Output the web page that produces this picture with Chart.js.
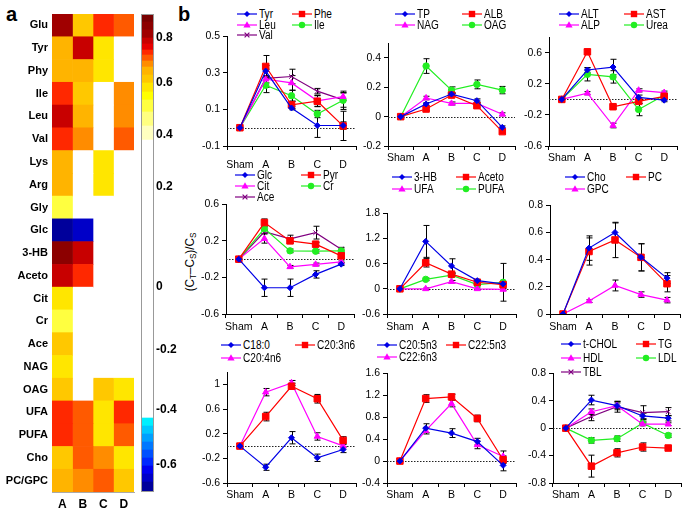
<!DOCTYPE html>
<html>
<head>
<meta charset="utf-8">
<script src="https://cdn.jsdelivr.net/npm/chart.js@4.4.1/dist/chart.umd.min.js"></script>
<style>
  body { margin: 0; background: #fff; width: 685px; height: 510px; position: relative; overflow: hidden;
         font-family: "Liberation Sans", Arial, sans-serif; color: #000; }
  canvas { position: absolute; }
  .panel-letter { position: absolute; font: bold 20px "Liberation Sans", Arial, sans-serif; line-height: 20px; }
  .lg { position: absolute; display: flex; align-items: center; height: 12px; font-size: 12px; line-height: 12px; white-space: nowrap; }
  .lg svg { margin-right: 2px; flex: none; }
  .lg span { display: inline-block; transform: scaleX(0.84); transform-origin: left center; }
  #ytitle { position: absolute; left: 190px; top: 262px; transform: translate(-50%, -50%) rotate(-90deg) scaleX(0.9);
            font-size: 13px; white-space: nowrap; }
  #ytitle sub { font-size: 9px; vertical-align: -2px; }
</style>
</head>
<body>
<div class="panel-letter" style="left:6px;top:4px">a</div>
<div class="panel-letter" style="left:178px;top:4px">b</div>
<div id="ytitle">(C<sub>T</sub>–C<sub>S</sub>)/C<sub>S</sub></div>

<script>
// ── Données : carte de chaleur ──────────────────────────────────────────────
const heatRows = ['Glu', 'Tyr', 'Phy', 'Ile', 'Leu', 'Val', 'Lys', 'Arg', 'Gly', 'Glc', '3-HB',
                  'Aceto', 'Cit', 'Cr', 'Ace', 'NAG', 'OAG', 'UFA', 'PUFA', 'Cho', 'PC/GPC'];
const heatGroups = ['A', 'B', 'C', 'D'];
// null = non significatif (case blanche)
const heatA = [0.83, 0.64, 0.64, 0.735, 0.78, 0.735, 0.64, 0.64, 0.51, -0.68, 0.86,
               0.79, 0.575, 0.51, 0.615, 0.575, 0.615, 0.735, 0.735, 0.615, 0.64];
const heatB = [0.63, 0.78, 0.64, 0.63, 0.645, 0.675, null, null, null, -0.645, 0.79,
               0.735, null, null, null, null, null, 0.705, 0.705, 0.705, 0.675];
const heatC = [0.735, 0.575, 0.575, null, null, null, 0.575, 0.575, null, null, null,
               null, null, null, null, null, 0.615, 0.575, 0.575, 0.675, 0.705];
const heatD = [0.705, null, null, 0.675, 0.675, 0.705, null, null, null, null, null,
               null, null, null, null, null, 0.575, 0.735, 0.705, 0.575, 0.615];

// Échelle de la barre de couleur (non linéaire, comme l'original)
const cbarTickVals = [0.8, 0.6, 0.4, 0.2, 0, -0.2, -0.4, -0.6];
const cbarTickPos = [454, 409, 357, 305, 205, 142, 82, 27];
const cbarEdges = [0, 10, 18, 26, 34, 42, 50, 58, 66, 74, 352, 366, 380, 392, 400, 409,
                   417, 425, 431, 437, 442, 448, 454, 462, 470, 478];
const cbarColors = ['#00009b', '#0000c8', '#0000f0', '#0028ff', '#0050ff', '#0078ff', '#00a0ff',
                    '#00c8ff', '#00f0ff', '#ffffff', '#ffffc0', '#ffff80', '#ffff40', '#ffff00',
                    '#ffe600', '#ffc800', '#ffb400', '#ff8c00', '#ff5a00', '#ff2800', '#e60000',
                    '#c80000', '#a00000', '#8c0000', '#780000'];

// ── Données : profils (C_T - C_S)/C_S ──────────────────────────────────────
const groups = ['Sham', 'A', 'B', 'C', 'D'];

const tyr = [0, 0.31, 0.108, 0.012, 0.012],    tyrErr = [0, 0.03, 0.01, 0.065, 0.02];
const phe = [0, 0.335, 0.125, 0.145, 0.01],    pheErr = [0, 0.06, 0.02, 0.03, 0.08];
const leu = [0, 0.265, 0.245, 0.147, 0.17],    leuErr = [0, 0.02, 0.04, 0.03, 0.02];
const ile = [0, 0.232, 0.175, 0.075, 0.15],    ileErr = [0, 0.04, 0.03, 0.02, 0.05];
const val = [0, 0.27, 0.28, 0.2, 0.152],       valErr = [0, 0.05, 0.04, 0.015, 0.04];

const tp = [0, 0.086, 0.154, 0.109, -0.073],   tpErr = [0, 0.01, 0.01, 0.012, 0.01];
const alb = [0, 0.052, 0.147, 0.075, -0.102],  albErr = [0, 0.01, 0.01, 0.01, 0.01];
const nag = [0, 0.127, 0.09, 0.09, 0.016],     nagErr = [0, 0.012, 0.01, 0.01, 0.01];
const oag = [0, 0.345, 0.181, 0.22, 0.181],    oagErr = [0, 0.05, 0.022, 0.03, 0.025];

const alt = [0, 0.379, 0.417, 0.026, -0.01],   altErr = [0, 0.03, 0.1, 0.03, 0.02];
const ast = [0, 0.613, -0.094, -0.025, 0.04],  astErr = [0, 0.03, 0.02, 0.03, 0.02];
const alp = [0, 0.08, -0.336, 0.117, 0.087],   alpErr = [0, 0.02, 0.03, 0.02, 0.02];
const urea = [0, 0.323, 0.29, -0.13, 0.053],   ureaErr = [0, 0.085, 0.08, 0.08, 0.03];

const glc = [0, -0.313, -0.313, -0.167, -0.055], glcErr = [0, 0.095, 0.095, 0.04, 0.015];
const pyr = [0, 0.4, 0.2, 0.164, 0.036],         pyrErr = [0, 0.04, 0.03, 0.02, 0.03];
const cit = [0, 0.225, -0.084, -0.058, -0.03],   citErr = [0, 0.05, 0.015, 0.015, 0.01];
const cr = [0, 0.335, 0.091, 0.087, 0.091],      crErr = [0, 0.02, 0.02, 0.02, 0.02];
const ace = [0, 0.3, 0.222, 0.29, 0.109],        aceErr = [0, 0.02, 0.04, 0.07, 0.02];

const hb = [0, 1.13, 0.546, 0.195, 0.117],     hbErr = [0, 0.38, 0.17, 0.03, 0.02];
const aceto = [0, 0.62, 0.35, 0.156, 0.1],     acetoErr = [0, 0.1, 0.03, 0.03, 0.03];
const ufa = [0, 0, 0.17, 0, -0.015],           ufaErr = [0, 0.02, 0.03, 0.02, 0.02];
const pufa = [0, 0.226, 0.327, 0.1, 0.156],    pufaErr = [0, 0.03, 0.03, 0.03, 0.45];

const cho = [0, 0.485, 0.6, 0.417, 0.264],     choErr = [0, 0.09, 0.07, 0.1, 0.04];
const pc = [0, 0.46, 0.545, 0.417, 0.223],     pcErr = [0, 0.1, 0.13, 0.1, 0.06];
const gpc = [0, 0.095, 0.21, 0.143, 0.102],    gpcErr = [0, 0.01, 0.04, 0.02, 0.02];

const c180 = [0, -0.344, 0.136, -0.19, -0.056], c180Err = [0, 0.05, 0.1, 0.06, 0.05];
const c203 = [0, 0.48, 0.973, 0.77, 0.093],     c203Err = [0, 0.07, 0.05, 0.07, 0.06];
const c204 = [0, 0.877, 1.027, 0.157, 0.003],   c204Err = [0, 0.06, 0.04, 0.06, 0.03];

const c205 = [0, 0.6, 0.51, 0.355, -0.078],    c205Err = [0, 0.08, 0.08, 0.06, 0.1];
const c225 = [0, 1.14, 1.17, 0.777, 0.024],    c225Err = [0, 0.07, 0.05, 0.06, 0.07];
const c226 = [0, 0.554, 1.048, 0.295, 0.084],  c226Err = [0, 0.06, 0.06, 0.07, 0.1];

const tchol = [0, 0.41, 0.328, 0.178, 0.145],  tcholErr = [0, 0.07, 0.06, 0.04, 0.04];
const tg = [0, -0.554, -0.36, -0.275, -0.29],  tgErr = [0, 0.16, 0.06, 0.06, 0.03];
const hdl = [0, 0.24, 0.328, 0.058, 0.058],    hdlErr = [0, 0.04, 0.04, 0.02, 0.02];
const ldl = [0, -0.178, -0.154, 0.072, -0.106], ldlErr = [0, 0.04, 0.04, 0.03, 0.03];
const tbl = [0, 0.169, 0.313, 0.227, 0.24],    tblErr = [0, 0.06, 0.08, 0.1, 0.06];

// ── Styles ─────────────────────────────────────────────────────────────────
const FONT = '"Liberation Sans", Arial, sans-serif';
const STY = [
    { color: '#0000e6', shape: 'rectRot', r: 3 },
    { color: '#ff0000', shape: 'rect', r: 4.6 },
    { color: '#ff00ff', shape: 'triangle', r: 3.6 },
    { color: '#22ee22', shape: 'circle', r: 3.2 },
    { color: '#800080', shape: 'crossRot', r: 3.2 },
];

// valeur -> position sur la barre -> couleur de bande
function valueToPos(v) {
    const vs = cbarTickVals, ps = cbarTickPos;
    if (v >= vs[0]) return ps[0] + (v - vs[0]) / (vs[0] - vs[1]) * (ps[0] - ps[1]);
    const n = vs.length - 1;
    if (v <= vs[n]) return ps[n] - (vs[n] - v) / (vs[n - 1] - vs[n]) * (ps[n - 1] - ps[n]);
    for (let i = 0; i < n; i++) {
        if (v <= vs[i] && v >= vs[i + 1]) {
            return ps[i + 1] + (v - vs[i + 1]) / (vs[i] - vs[i + 1]) * (ps[i] - ps[i + 1]);
        }
    }
    return ps[n];
}
function colorFor(v) {
    if (v === null) return '#ffffff';
    const u = valueToPos(v);
    for (let i = 0; i < cbarColors.length; i++) {
        if (u < cbarEdges[i + 1]) return cbarColors[i];
    }
    return cbarColors[cbarColors.length - 1];
}

function addCanvas(left, top, w, h) {
    const cv = document.createElement('canvas');
    cv.width = w; cv.height = h;
    cv.style.left = left + 'px'; cv.style.top = top + 'px';
    cv.style.width = w + 'px'; cv.style.height = h + 'px';
    document.body.appendChild(cv);
    return cv;
}

// ── a : carte de chaleur ───────────────────────────────────────────────────
const heatCols = [heatA, heatB, heatC, heatD];
new Chart(addCanvas(0, 0, 138, 510), {
    type: 'bar',
    data: {
        labels: heatRows,
        datasets: heatCols.map((col, i) => ({
            label: heatGroups[i],
            data: heatRows.map(() => 1),
            backgroundColor: col.map(colorFor),
            borderWidth: 0,
            barPercentage: 1,
            categoryPercentage: 1,
        })),
    },
    options: {
        indexAxis: 'y',
        responsive: false,
        animation: false,
        layout: { padding: { top: 14, right: 4, left: 0, bottom: 0 } },
        plugins: { legend: { display: false }, tooltip: { enabled: false } },
        scales: {
            y: {
                stacked: true,
                grid: { display: false, drawTicks: false },
                border: { display: false },
                ticks: { color: '#000', font: { family: FONT, size: 11, weight: 'bold' }, padding: 4, autoSkip: false },
                afterFit: s => { s.width = 52; },
            },
            x: {
                type: 'linear',
                stacked: true,
                min: 0,
                max: 4,
                grid: { display: false, drawTicks: false },
                border: { display: true, color: '#aaa' },
                ticks: {
                    color: '#000', font: { family: FONT, size: 12, weight: 'bold' }, padding: 5,
                    callback: (v, i) => heatGroups[i],
                },
                afterBuildTicks: s => { s.ticks = heatGroups.map((g, i) => ({ value: i + 0.5 })); },
                afterFit: s => { s.height = 18; },
            },
        },
    },
});

// ── a : barre de couleur ───────────────────────────────────────────────────
const frame = {
    id: 'frame',
    afterDatasetsDraw(chart) {
        const { ctx, chartArea: a } = chart;
        ctx.save();
        ctx.strokeStyle = '#999';
        ctx.lineWidth = 1;
        ctx.strokeRect(a.left + 0.5, a.top + 0.5, a.right - a.left - 1, a.bottom - a.top - 1);
        ctx.restore();
    },
};
new Chart(addCanvas(138, 0, 46, 510), {
    type: 'bar',
    data: {
        labels: [''],
        datasets: cbarColors.map((c, i) => ({
            data: [[cbarEdges[i], cbarEdges[i + 1]]],
            backgroundColor: c,
            borderWidth: 0,
            grouped: false,
            barPercentage: 1,
            categoryPercentage: 1,
        })),
    },
    options: {
        responsive: false,
        animation: false,
        layout: { padding: { top: 14, right: 0, left: 3, bottom: 18 } },
        plugins: { legend: { display: false }, tooltip: { enabled: false } },
        scales: {
            x: { display: false },
            y: {
                position: 'right',
                min: 0,
                max: cbarEdges[cbarEdges.length - 1],
                grid: { display: false, drawTicks: false },
                border: { display: false },
                ticks: {
                    color: '#000', font: { family: FONT, size: 12, weight: 'bold' }, padding: 2,
                    callback: (v, i) => String(cbarTickVals[i]),
                },
                afterBuildTicks: s => { s.ticks = cbarTickPos.map(p => ({ value: p })); },
                afterFit: s => { s.width = 30; },
            },
        },
    },
    plugins: [frame],
});

// ── b : profils ────────────────────────────────────────────────────────────
const zeroLine = {
    id: 'zeroLine',
    beforeDatasetsDraw(chart) {
        const { ctx, chartArea: a, scales: { y } } = chart;
        if (y.min >= 0) return;
        const py = Math.round(y.getPixelForValue(0)) + 0.5;
        ctx.save();
        ctx.strokeStyle = '#222';
        ctx.lineWidth = 1;
        ctx.setLineDash([1.5, 1.5]);
        ctx.beginPath();
        ctx.moveTo(a.left, py);
        ctx.lineTo(a.right, py);
        ctx.stroke();
        ctx.restore();
    },
};
const errorBars = {
    id: 'errorBars',
    beforeDatasetsDraw(chart) {
        const { ctx, scales: { y } } = chart;
        ctx.save();
        ctx.strokeStyle = '#000';
        ctx.lineWidth = 1;
        chart.data.datasets.forEach((ds, di) => {
            const meta = chart.getDatasetMeta(di);
            ds.err.forEach((e, i) => {
                if (!e) return;
                const x = Math.round(meta.data[i].x) + 0.5;
                const y1 = y.getPixelForValue(ds.data[i] + e);
                const y2 = y.getPixelForValue(ds.data[i] - e);
                ctx.beginPath();
                ctx.moveTo(x, y1); ctx.lineTo(x, y2);
                ctx.moveTo(x - 3, y1); ctx.lineTo(x + 3, y1);
                ctx.moveTo(x - 3, y2); ctx.lineTo(x + 3, y2);
                ctx.stroke();
            });
        });
        ctx.restore();
    },
};

// box = [gauche axe, haut axe, droite axe, bas axe] ; leg = [x col1, x col2, y ligne1, pas]
const panels = [
    { series: [['Tyr', tyr, tyrErr], ['Phe', phe, pheErr], ['Leu', leu, leuErr], ['Ile', ile, ileErr], ['Val', val, valErr]],
      yMin: -0.1, yMax: 0.5, yTicks: [-0.1, 0.1, 0.3, 0.5], box: [227, 35, 356, 146], lab: 9, leg: [237, 292, 14, 10.5] },
    { series: [['TP', tp, tpErr], ['ALB', alb, albErr], ['NAG', nag, nagErr], ['OAG', oag, oagErr]],
      yMin: -0.2, yMax: 0.5, yTicks: [-0.2, 0, 0.2, 0.4], box: [388, 42, 515, 146], lab: 2, leg: [395, 462, 14, 11] },
    { series: [['ALT', alt, altErr], ['AST', ast, astErr], ['ALP', alp, alpErr], ['Urea', urea, ureaErr]],
      yMin: -0.6, yMax: 0.8, yTicks: [-0.6, -0.2, 0.2, 0.6], box: [549, 36, 677, 146], lab: 2, leg: [559, 624, 14, 11] },
    { series: [['Glc', glc, glcErr], ['Pyr', pyr, pyrErr], ['Cit', cit, citErr], ['Cr', cr, crErr], ['Ace', ace, aceErr]],
      yMin: -0.6, yMax: 0.6, yTicks: [-0.6, -0.2, 0.2, 0.6], box: [226, 203, 354, 314], lab: 3, leg: [235, 301, 175, 11] },
    { series: [['3-HB', hb, hbErr], ['Aceto', aceto, acetoErr], ['UFA', ufa, ufaErr], ['PUFA', pufa, pufaErr]],
      yMin: -0.6, yMax: 1.8, yTicks: [-0.6, 0, 0.6, 1.2, 1.8], box: [387, 212, 516, 314], lab: 3, leg: [392, 456, 177, 12.3] },
    { series: [['Cho', cho, choErr], ['PC', pc, pcErr], ['GPC', gpc, gpcErr]],
      yMin: 0, yMax: 0.8, yTicks: [0, 0.2, 0.4, 0.6, 0.8], box: [550, 204, 680, 314], lab: 3, leg: [565, 626, 177, 12.3] },
    { series: [['C18:0', c180, c180Err], ['C20:3n6', c203, c203Err], ['C20:4n6', c204, c204Err]],
      yMin: -0.6, yMax: 1.2, yTicks: [-0.6, -0.2, 0.2, 0.6, 1], box: [227, 371, 356, 483], lab: 2, leg: [221, 295, 345, 13] },
    { series: [['C20:5n3', c205, c205Err], ['C22:5n3', c225, c225Err], ['C22:6n3', c226, c226Err]],
      yMin: -0.4, yMax: 1.6, yTicks: [-0.4, 0, 0.4, 0.8, 1.2, 1.6], box: [387, 372, 516, 483], lab: 2, leg: [377, 446, 345, 12.3] },
    { series: [['t-CHOL', tchol, tcholErr], ['TG', tg, tgErr], ['HDL', hdl, hdlErr], ['LDL', ldl, ldlErr], ['TBL', tbl, tblErr]],
      yMin: -0.8, yMax: 0.8, yTicks: [-0.8, -0.4, 0, 0.4, 0.8], box: [553, 372, 681, 483], lab: 2, leg: [561, 636, 344, 14] },
];

function markerSvg(st) {
    const c = st.color;
    let m = '';
    if (st.shape === 'rectRot') m = `<polygon points="10,3 13,6 10,9 7,6" fill="${c}"/>`;
    else if (st.shape === 'rect') m = `<rect x="6.8" y="2.8" width="6.4" height="6.4" fill="${c}"/>`;
    else if (st.shape === 'triangle') m = `<polygon points="10,2.2 13.6,8.6 6.4,8.6" fill="${c}"/>`;
    else if (st.shape === 'circle') m = `<circle cx="10" cy="6" r="3.2" fill="${c}"/>`;
    else m = `<path d="M7.6 3.6L12.4 8.4M12.4 3.6L7.6 8.4" stroke="${c}" stroke-width="1.2"/>`;
    return `<svg width="20" height="12" viewBox="0 0 20 12"><line x1="0" y1="6" x2="20" y2="6" stroke="${c}" stroke-width="1.2"/>${m}</svg>`;
}

panels.forEach(p => {
    const [ax, at, ar, ab] = p.box;
    const padTop = 8, yw = 40, xh = 24, padRight = 6;
    const cv = addCanvas(ax - yw, at - padTop, ar - ax + yw + padRight, ab - at + padTop + xh);

    new Chart(cv, {
        type: 'line',
        data: {
            labels: groups,
            datasets: p.series.map((s, i) => ({
                label: s[0],
                data: s[1],
                err: s[2],
                borderColor: STY[i].color,
                backgroundColor: STY[i].color,
                pointBackgroundColor: STY[i].color,
                pointBorderColor: STY[i].color,
                pointStyle: STY[i].shape,
                pointRadius: STY[i].r,
                pointBorderWidth: 1,
                borderWidth: 1.2,
                tension: 0,
            })),
        },
        options: {
            responsive: false,
            animation: false,
            layout: { padding: { top: padTop, right: padRight, left: 0, bottom: 0 } },
            plugins: { legend: { display: false }, tooltip: { enabled: false } },
            scales: {
                x: {
                    offset: true,
                    grid: { offset: true, drawOnChartArea: false, tickLength: 4, color: '#000' },
                    border: { color: '#000' },
                    ticks: { color: '#000', font: { family: FONT, size: 10.5 }, padding: p.lab, maxRotation: 0, autoSkip: false },
                    afterFit: s => { s.height = xh; },
                },
                y: {
                    min: p.yMin,
                    max: p.yMax,
                    grid: { drawOnChartArea: false, tickLength: 4, color: '#000' },
                    border: { color: '#000' },
                    ticks: { color: '#000', font: { family: FONT, size: 10.5 }, padding: 3,
                             callback: v => String(+v.toFixed(2)) },
                    afterBuildTicks: s => { s.ticks = p.yTicks.map(v => ({ value: v })); },
                    afterFit: s => { s.width = yw; },
                },
            },
        },
        plugins: [zeroLine, errorBars],
    });

    // légende sur deux colonnes
    const [x1, x2, y1, dy] = p.leg;
    p.series.forEach((s, i) => {
        const d = document.createElement('div');
        d.className = 'lg';
        d.style.left = (i % 2 === 0 ? x1 : x2) + 'px';
        d.style.top = (y1 + Math.floor(i / 2) * dy - 6) + 'px';
        d.innerHTML = markerSvg(STY[i]) + '<span>' + s[0] + '</span>';
        document.body.appendChild(d);
    });
});
</script>
</body>
</html>
